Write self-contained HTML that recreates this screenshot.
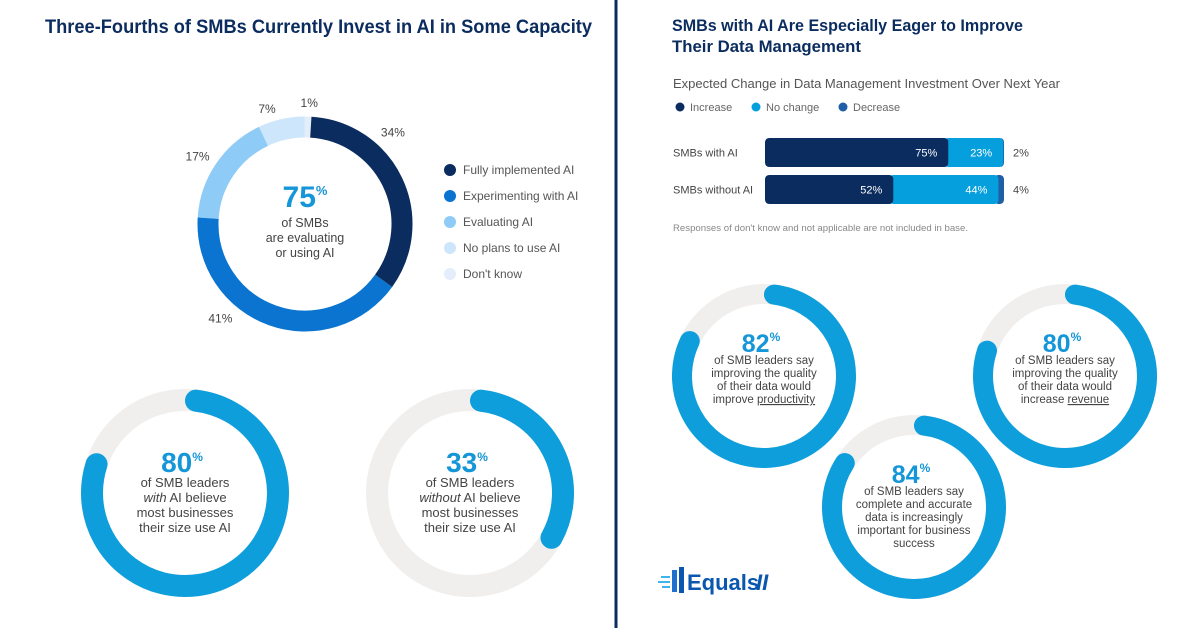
<!DOCTYPE html>
<html><head><meta charset="utf-8">
<style>
html,body{margin:0;padding:0;background:#fff;}
svg{display:block;font-family:"Liberation Sans",sans-serif;}
</style></head>
<body>
<svg id="chart" width="1200" height="628" viewBox="0 0 1200 628" xmlns="http://www.w3.org/2000/svg">
  <rect x="0" y="0" width="1200" height="628" fill="#fff"/>
  <line x1="616" y1="0" x2="616" y2="628" stroke="#0b2c5e" stroke-width="3"/>
  <text x="45" y="33" font-size="19" font-weight="bold" fill="#0b2c5e" textLength="547" lengthAdjust="spacingAndGlyphs">Three-Fourths of SMBs Currently Invest in AI in Some Capacity</text>
  <text x="672" y="31" font-size="17" font-weight="bold" fill="#0b2c5e" textLength="351" lengthAdjust="spacingAndGlyphs">SMBs with AI Are Especially Eager to Improve</text>
  <text x="672" y="52" font-size="17" font-weight="bold" fill="#0b2c5e" textLength="189" lengthAdjust="spacingAndGlyphs">Their Data Management</text>
  <text x="673" y="88" font-size="12.5" fill="#555" textLength="387" lengthAdjust="spacingAndGlyphs">Expected Change in Data Management Investment Over Next Year</text>
  <text x="673" y="231" font-size="9" fill="#888" textLength="295" lengthAdjust="spacingAndGlyphs">Responses of don't know and not applicable are not included in base.</text>
  <g id="donut"></g>
  <g id="legend"></g>
  <g id="bars"></g>
  <g id="rings"></g>
  <g>
    <rect x="672" y="570" width="5" height="22" fill="#1d6fd0"/>
    <rect x="679" y="567" width="5" height="26" fill="#0b57b0"/>
    <rect x="661" y="576" width="9" height="2" fill="#40b4ec"/>
    <rect x="658" y="581" width="12" height="2" fill="#40b4ec"/>
    <rect x="662" y="586" width="8" height="2" fill="#40b4ec"/>
    <text x="687" y="590" font-size="22" font-weight="bold" fill="#0b57b0">Equals</text>
    <text x="756" y="590" font-size="22" font-weight="bold" font-style="italic" fill="#0b57b0">II</text>
  </g>
</svg>
<script>
const NS="http://www.w3.org/2000/svg";
function mk(tag,attrs,parent){const e=document.createElementNS(NS,tag);for(const k in attrs)e.setAttribute(k,attrs[k]);parent.appendChild(e);return e;}
function pt(cx,cy,r,a){return [cx+r*Math.sin(a),cy-r*Math.cos(a)];}
function arcPath(cx,cy,r,a0,a1){const p0=pt(cx,cy,r,a0),p1=pt(cx,cy,r,a1);const large=(a1-a0)>Math.PI?1:0;return `M${p0[0]} ${p0[1]} A${r} ${r} 0 ${large} 1 ${p1[0]} ${p1[1]}`;}

// ---- main donut data
const donutCategories=["Fully implemented AI","Experimenting with AI","Evaluating AI","No plans to use AI","Don't know"];
const donutValues=[34,41,17,7,1];
const donutLabels=["34%","41%","17%","7%","1%"];
const donutColors=["#0b2c5e","#0a74d0","#8ecbf6","#cde6fb","#e3eefa"];
const labelFrac=[0.33,0.65,0.47,0.28,0.6];

const dg=document.getElementById('donut');
(function(){
  const cx=305,cy=224,r=97,w=21;
  const total=donutValues.reduce((a,b)=>a+b,0);
  let a=0.06;
  const arcs=[];
  donutValues.forEach((v,i)=>{const span=v/total*2*Math.PI;arcs.push([a,a+span]);a+=span;});
  for(let i=donutValues.length-1;i>=0;i--){
    const [a0,a1]=arcs[i];
    const p=mk('path',{d:arcPath(cx,cy,r,a0,a1),fill:'none',stroke:donutColors[i],'stroke-width':w,'stroke-linecap':'butt'},dg);
    
    
  }
  donutValues.forEach((v,i)=>{
    const [a0,a1]=arcs[i];const m=a0+(a1-a0)*labelFrac[i];
    const rr=v<10?121:127;
    const lp=pt(cx,cy,rr,m);
    const t=mk('text',{x:lp[0],y:lp[1]+4,'font-size':12,fill:'#444','text-anchor':'middle'},dg);
    t.textContent=donutLabels[i];
    
    
  });
  const big=mk('text',{x:cx,y:207,'font-size':30,'font-weight':'bold',fill:'#1496d8','text-anchor':'middle'},dg);
  big.innerHTML='75<tspan font-size="13" dy="-12">%</tspan>';
  
  
  ["of SMBs","are evaluating","or using AI"].forEach((s,i)=>{
    const t=mk('text',{x:cx,y:227+i*15,'font-size':12.5,fill:'#444','text-anchor':'middle'},dg);
    t.textContent=s;
    
    
  });
  const lg=document.getElementById('legend');
  donutCategories.forEach((c,i)=>{
    const y=170+i*26;
    const d=mk('circle',{cx:450,cy:y,r:6,fill:donutColors[i]},lg);
    
    
    const t=mk('text',{x:463,y:y+4,'font-size':12,fill:'#555'},lg);
    t.textContent=c;
    
    
  });
})();

// ---- stacked bar data
const barCategories=["SMBs with AI","SMBs without AI"];
const increaseValues=[75,52];
const noChangeValues=[23,44];
const decreaseValues=[2,4];
const seriesNames=["Increase","No change","Decrease"];
const seriesColors=["#0b2c5e","#069fdd","#1f5fa6"];

const bg=document.getElementById('bars');
(function(){
  seriesNames.forEach((n,i)=>{
    const xs=[680,756,843][i];
    const c=mk('circle',{cx:xs,cy:107,r:4.5,fill:seriesColors[i]},bg);
    
    
    const t=mk('text',{x:xs+10,y:111,'font-size':11,fill:'#666'},bg);
    t.textContent=n;
    
    
  });
  const x0=765,W=239,h=29;
  const xs=v=>v/100*W;
  barCategories.forEach((cat,i)=>{
    const y=138+i*37;
    const lab=mk('text',{x:673,y:y+h/2+4,'font-size':11,fill:'#444'},bg);
    lab.textContent=cat;
    
    
    const vals=[increaseValues[i],noChangeValues[i],decreaseValues[i]];
    const tot=vals.reduce((a,b)=>a+b,0);
    const clip=mk('clipPath',{id:'bc'+i},bg);
    mk('rect',{x:x0,y:y,width:W,height:h,rx:4},clip);
    const grp=mk('g',{'clip-path':'url(#bc'+i+')'},bg);
    let cur=0;
    const pos=[];vals.forEach(v=>{pos.push(cur);cur+=v/tot*100;});
    for(let k=vals.length-1;k>=0;k--){
      const r=mk('rect',{x:x0+xs(pos[k]),y:y,width:xs(vals[k]/tot*100)+(k<2?4:0),height:h,rx:4,fill:seriesColors[k]},grp);
      
      
    }
    for(let k=0;k<2;k++){
      const t=mk('text',{x:x0+xs(pos[k]+vals[k]/tot*100)-7,y:y+h/2+4,'font-size':11,fill:'#fff','text-anchor':'end'},bg);
      t.textContent=vals[k]+'%';
      
      
    }
    const t=mk('text',{x:1013,y:y+h/2+4,'font-size':11,fill:'#444'},bg);
    t.textContent=vals[2]+'%';
    
    
  });
})();

// ---- ring stats data
const ringValues=[80,33,82,80,84];
const ringTexts=[
 ["of SMB leaders","<tspan font-style='italic'>with</tspan> AI believe","most businesses","their size use AI"],
 ["of SMB leaders","<tspan font-style='italic'>without</tspan> AI believe","most businesses","their size use AI"],
 ["of SMB leaders say","improving the quality","of their data would","improve <tspan text-decoration='underline'>productivity</tspan>"],
 ["of SMB leaders say","improving the quality","of their data would","increase <tspan text-decoration='underline'>revenue</tspan>"],
 ["of SMB leaders say","complete and accurate","data is increasingly","important for business","success"]
];
const rg=document.getElementById('rings');
(function(){
  // cx, cy, r, stroke, fontsize, number offset, first-line gap, line height
  const geo=[[185,493,93,22,13,-21,15,15],[470,493,93,22,13,-21,15,15],[764,376,82,20,11.5,-24,12,13],[1065,376,82,20,11.5,-24,12,13],[914,507,82,20,11.5,-24,12,13]];
  ringValues.forEach((v,i)=>{
    const [cx,cy,r,w,fs,off,gap,lh]=geo[i];
    const tr=mk('circle',{cx,cy,r,fill:'none',stroke:'#f1efed','stroke-width':w},rg);
    
    
    const cap=(w/2)/r;
    const a0=cap, a1=v/100*2*Math.PI;
    const p=mk('path',{d:arcPath(cx,cy,r,a0,a1),fill:'none',stroke:'#0e9edb','stroke-width':w,'stroke-linecap':'round'},rg);
    
    
    const lines=ringTexts[i];
    const bigY=cy+off;
    const big=mk('text',{x:cx-3,y:bigY,'font-size':i<2?28:25,'font-weight':'bold',fill:'#1496d8','text-anchor':'middle'},rg);
    big.innerHTML=v+'<tspan font-size="12" dy="-11">%</tspan>';
    
    
    lines.forEach((s,j)=>{
      const t=mk('text',{x:cx,y:bigY+gap+j*lh,'font-size':fs,fill:'#444','text-anchor':'middle'},rg);
      t.innerHTML=s;
      
      
    });
  });
})();
</script>
</body></html>
